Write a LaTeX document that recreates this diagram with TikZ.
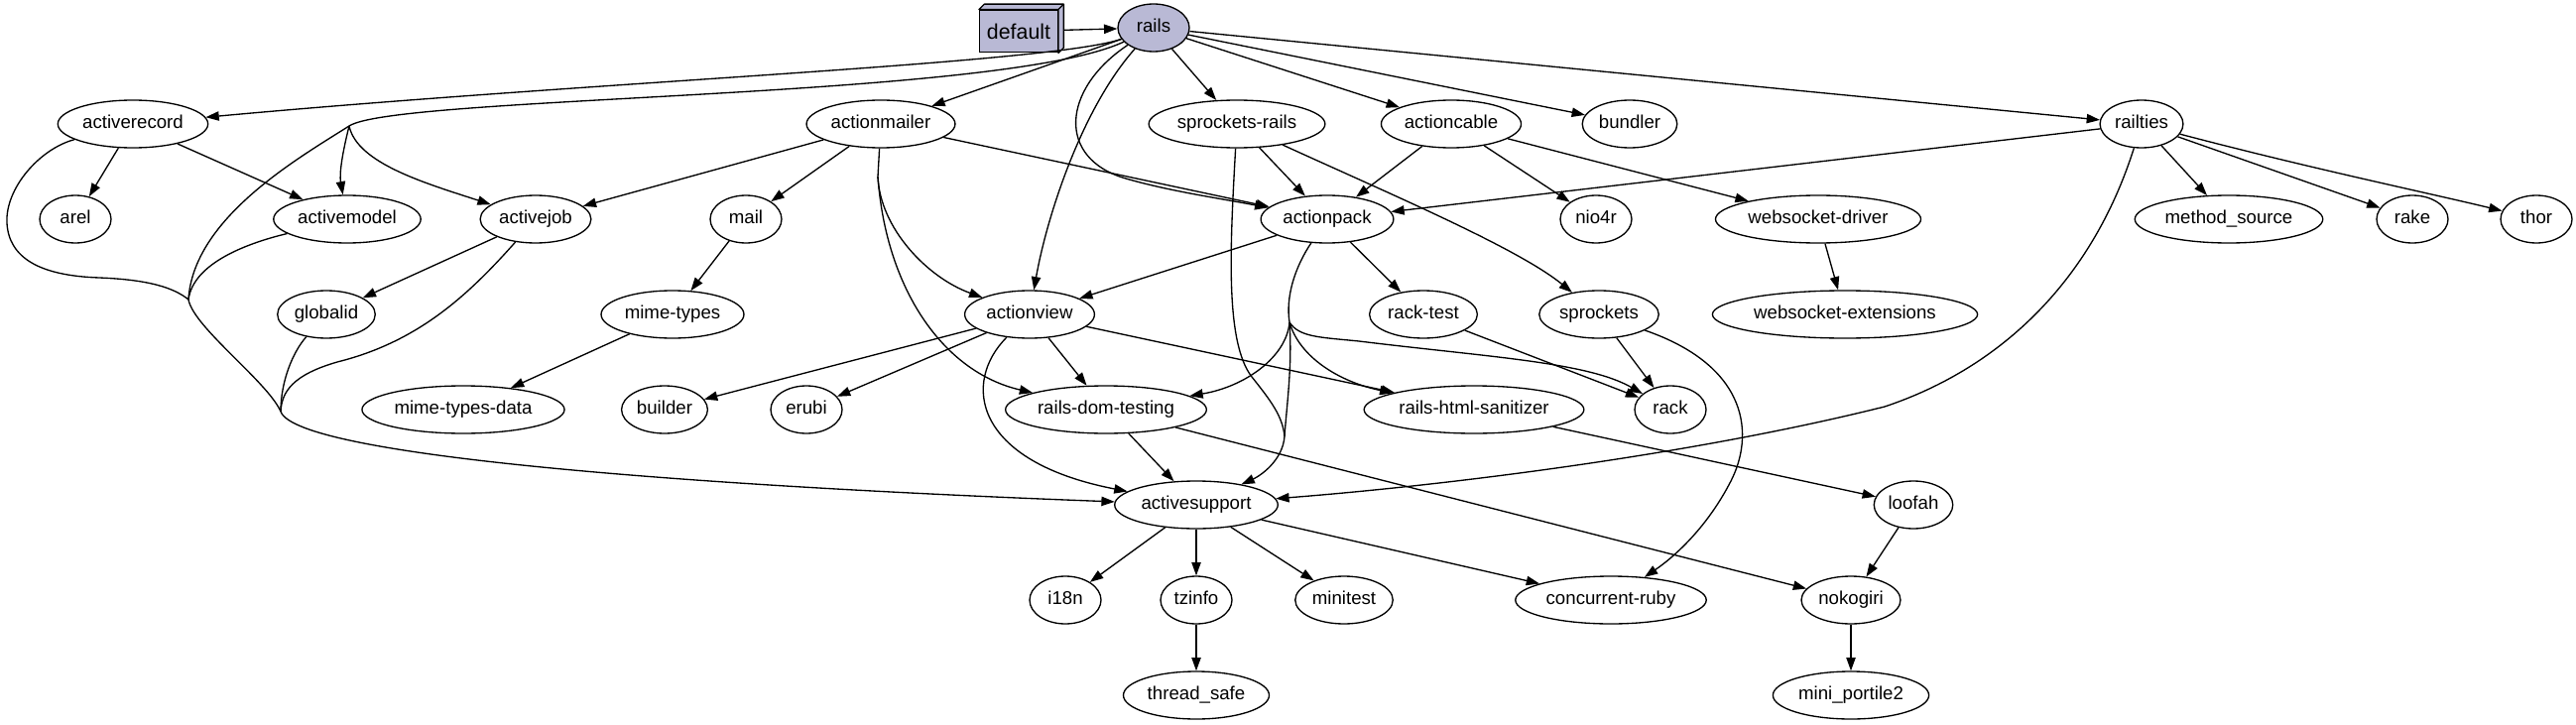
\documentclass[tikz,border=0pt]{standalone}
\usepackage{fontspec}
\setmainfont{Liberation Sans}
\usepackage{xcolor}
\usetikzlibrary{arrows.meta,shapes.geometric}
\definecolor{gemfill}{HTML}{B9B9D5}

\begin{document}
\begin{tikzpicture}[
    x=0.75pt, y=-0.75pt,
    pkg/.style={draw, ellipse, line width=1pt, minimum width=54pt, minimum height=36pt, inner xsep=2pt, inner ysep=0pt, text height=10pt, text depth=3pt, font=\fontsize{14}{16}\selectfont},
    rootpkg/.style={pkg, fill=gemfill},
    group/.style={draw, rectangle, line width=1pt, fill=gemfill, minimum width=59pt, minimum height=32pt, inner sep=0pt, font=\fontsize{16}{18}\selectfont},
    dep/.style={-{Triangle[length=10pt,width=7pt]}, line width=1pt},
    link/.style={line width=1pt}
]
    \useasboundingbox (0,0) rectangle (2597,731);

    % Group and root gem
    \node[group] (default) at (1027,31.5) {default};
    \filldraw[line width=1pt, fill=gemfill, line join=round] (default.north west) -- ++(4pt,4pt) -- ([shift={(4pt,4pt)}]default.north east) -- ([shift={(4pt,4pt)}]default.south east) -- (default.south east) -- (default.north east) -- cycle;
    \draw[line width=1pt] (default.north east) -- ++(4pt,4pt);
    \node[rootpkg] (rails) at (1163,28) {rails};

    % Rank 1
    \node[pkg] (activerecord) at (134,125) {activerecord};
    \node[pkg] (actionmailer) at (888,125) {actionmailer};
    \node[pkg] (sprocketsrails) at (1247,125) {sprockets-rails};
    \node[pkg] (actioncable) at (1463,125) {actioncable};
    \node[pkg] (bundler) at (1643,125) {bundler};
    \node[pkg] (railties) at (2159,125) {railties};

    % Rank 2
    \node[pkg] (arel) at (76,221) {arel};
    \node[pkg] (activemodel) at (350,221) {activemodel};
    \node[pkg] (activejob) at (540,221) {activejob};
    \node[pkg] (mail) at (752,221) {mail};
    \node[pkg] (actionpack) at (1338,221) {actionpack};
    \node[pkg] (nio4r) at (1609,221) {nio4r};
    \node[pkg] (wsdriver) at (1833,221) {websocket-driver};
    \node[pkg] (methodsource) at (2247,221) {method\_source};
    \node[pkg] (rake) at (2432,221) {rake};
    \node[pkg] (thor) at (2557,221) {thor};

    % Rank 3
    \node[pkg] (globalid) at (329,317) {globalid};
    \node[pkg] (mimetypes) at (678,317) {mime-types};
    \node[pkg] (actionview) at (1038,317) {actionview};
    \node[pkg] (racktest) at (1435,317) {rack-test};
    \node[pkg] (sprockets) at (1612,317) {sprockets};
    \node[pkg] (wsext) at (1860,317) {websocket-extensions};

    % Rank 4
    \node[pkg] (mimedata) at (467,413) {mime-types-data};
    \node[pkg] (builder) at (670,413) {builder};
    \node[pkg] (erubi) at (813,413) {erubi};
    \node[pkg] (domtesting) at (1115,413) {rails-dom-testing};
    \node[pkg] (sanitizer) at (1486,413) {rails-html-sanitizer};
    \node[pkg] (rack) at (1684,413) {rack};

    % Rank 5 to 7
    \node[pkg] (activesupport) at (1206,509) {activesupport};
    \node[pkg] (loofah) at (1929,509) {loofah};
    \node[pkg] (i18n) at (1074,605) {i18n};
    \node[pkg] (tzinfo) at (1206,605) {tzinfo};
    \node[pkg] (minitest) at (1355,605) {minitest};
    \node[pkg] (concurrentruby) at (1624,605) {concurrent-ruby};
    \node[pkg] (nokogiri) at (1866,605) {nokogiri};
    \node[pkg] (threadsafe) at (1206,701) {thread\_safe};
    \node[pkg] (miniportile) at (1866,701) {mini\_portile2};

    % Merge points of concentrated edges
    \coordinate (mA) at (352,127);
    \coordinate (mC) at (190,302);
    \coordinate (mD) at (283,415);
    \coordinate (mM) at (885,178);
    \coordinate (mP) at (1300,325);
    \coordinate (mE) at (1295,440);

    % rails
    \draw[dep, shorten <=4pt] (default) -- (rails);
    \draw[dep] (rails) .. controls (1060,64) and (600,82) .. (activerecord);
    \draw[dep] (rails) -- (actionmailer);
    \draw[dep] (rails) -- (sprocketsrails);
    \draw[dep] (rails) -- (actioncable);
    \draw[dep] (rails) -- (bundler);
    \draw[dep] (rails) -- (railties);
    \draw[dep] (rails) .. controls (1070,90) and (1065,160) .. (1135,180) .. controls (1180,193) and (1230,200) .. (actionpack);
    \draw[dep] (rails) .. controls (1090,110) and (1055,220) .. (actionview);
    \draw[link] (rails) .. controls (1010,100) and (400,96) .. (mA);
    \draw[dep] (mA) .. controls (345,155) and (342,175) .. (activemodel);
    \draw[dep] (mA) .. controls (360,165) and (430,185) .. (activejob);
    \draw[link] (mA) .. controls (300,160) and (195,220) .. (mC);

    % into activesupport from the left
    \draw[link] (activerecord) .. controls (40,150) and (5,190) .. (7,225) .. controls (9,260) and (40,278) .. (100,280) .. controls (150,282) and (175,290) .. (mC);
    \draw[link] (activemodel) .. controls (250,245) and (195,265) .. (mC);
    \draw[link] (mC) .. controls (195,330) and (270,385) .. (mD);
    \draw[link] (globalid) .. controls (295,355) and (283,385) .. (mD);
    \draw[link] (activejob) .. controls (470,300) and (420,345) .. (340,365) .. controls (295,378) and (284,395) .. (mD);
    \draw[dep] (mD) .. controls (300,460) and (700,490) .. (activesupport);

    \draw[dep] (activerecord) -- (arel);
    \draw[dep] (activerecord) -- (activemodel);
    \draw[dep] (activejob) -- (globalid);

    % actionmailer
    \draw[dep] (actionmailer) -- (activejob);
    \draw[dep] (actionmailer) -- (mail);
    \draw[dep] (actionmailer) -- (actionpack);
    \draw[dep] (mail) -- (mimetypes);
    \draw[dep] (mimetypes) -- (mimedata);
    \draw[link] (actionmailer) -- (mM);
    \draw[dep] (mM) .. controls (887,230) and (935,280) .. (actionview);
    \draw[dep] (mM) .. controls (893,290) and (950,375) .. (domtesting);

    % sprockets-rails, actioncable, railties
    \draw[dep] (sprocketsrails) -- (actionpack);
    \draw[dep] (sprocketsrails) .. controls (1400,195) and (1530,250) .. (sprockets);
    \draw[link] (sprocketsrails) .. controls (1240,250) and (1235,345) .. (1262,380) .. controls (1282,405) and (1293,420) .. (mE);
    \draw[dep] (actioncable) -- (actionpack);
    \draw[dep] (actioncable) -- (nio4r);
    \draw[dep] (actioncable) -- (wsdriver);
    \draw[dep] (wsdriver) -- (wsext);
    \draw[dep] (railties) -- (actionpack);
    \draw[dep] (railties) -- (methodsource);
    \draw[dep] (railties) -- (rake);
    \draw[dep] (railties) .. controls (2330,170) and (2450,195) .. (thor);
    \draw[dep] (railties) .. controls (2110,280) and (2020,370) .. (1900,410) .. controls (1700,460) and (1450,490) .. (activesupport);

    % actionpack
    \draw[dep] (actionpack) -- (actionview);
    \draw[dep] (actionpack) -- (racktest);
    \draw[link] (actionpack) .. controls (1305,270) and (1296,300) .. (mP);
    \draw[dep] (mP) .. controls (1297,360) and (1255,390) .. (domtesting);
    \draw[dep] (mP) .. controls (1310,360) and (1350,385) .. (sanitizer);
    \draw[dep] (mP) .. controls (1310,340) and (1330,340) .. (1370,344) .. controls (1500,360) and (1600,365) .. (rack);
    \draw[link] (mP) .. controls (1303,370) and (1297,410) .. (mE);
    \draw[dep] (mE) .. controls (1293,465) and (1270,480) .. (activesupport);
    \draw[dep] (racktest) -- (rack);
    \draw[dep] (sprockets) -- (rack);
    \draw[dep] (sprockets) .. controls (1765,370) and (1768,440) .. (1745,485) .. controls (1722,530) and (1690,560) .. (concurrentruby);

    % actionview
    \draw[dep] (actionview) -- (builder);
    \draw[dep] (actionview) -- (erubi);
    \draw[dep] (actionview) -- (domtesting);
    \draw[dep] (actionview) -- (sanitizer);
    \draw[dep] (actionview) .. controls (970,385) and (980,465) .. (activesupport);

    % lower ranks
    \draw[dep] (domtesting) -- (activesupport);
    \draw[dep] (domtesting) -- (nokogiri);
    \draw[dep] (sanitizer) -- (loofah);
    \draw[dep] (loofah) -- (nokogiri);
    \draw[dep] (nokogiri) -- (miniportile);
    \draw[dep] (activesupport) -- (i18n);
    \draw[dep] (activesupport) -- (tzinfo);
    \draw[dep] (activesupport) -- (minitest);
    \draw[dep] (activesupport) -- (concurrentruby);
    \draw[dep] (tzinfo) -- (threadsafe);

\end{tikzpicture}
\end{document}
